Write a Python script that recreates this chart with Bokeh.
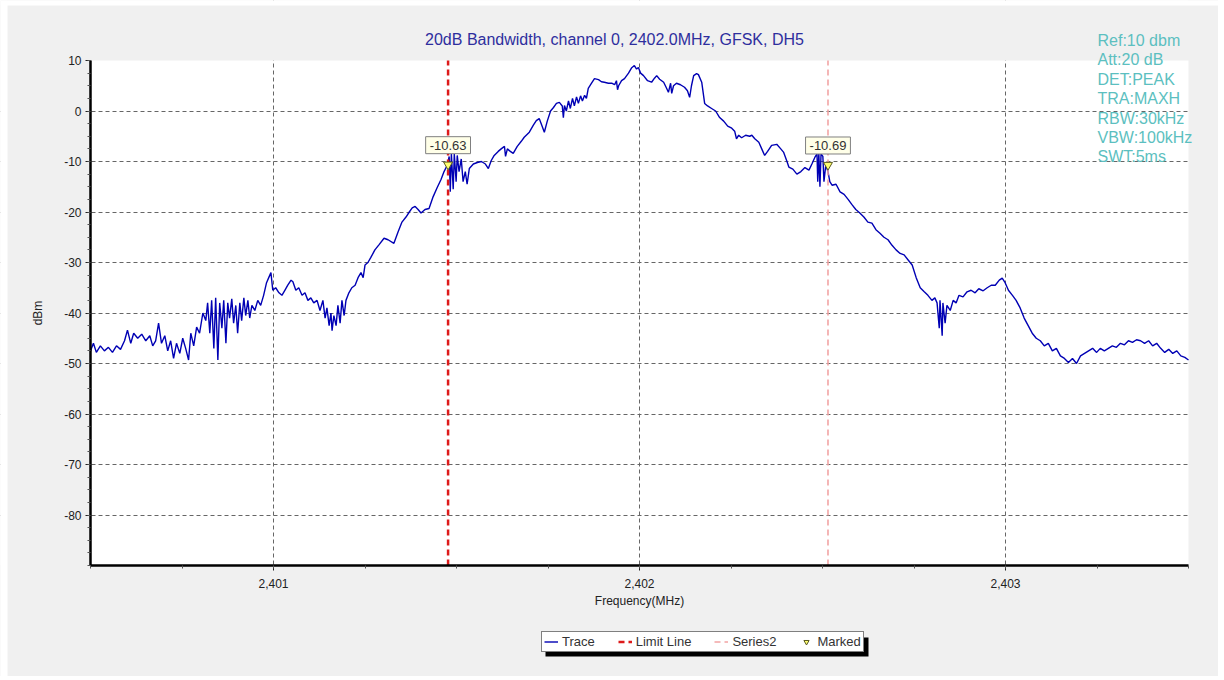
from bokeh.plotting import figure
from bokeh.models import (Range1d, FixedTicker, NumeralTickFormatter, Label,
                          Legend, LegendItem, BoxAnnotation)
from bokeh.embed import file_html
from bokeh.resources import INLINE

# ---------------- data ----------------
TITLE = "20dB Bandwidth, channel 0, 2402.0MHz, GFSK, DH5"
X_LABEL = "Frequency(MHz)"
Y_LABEL = "dBm"
x_ticks = [2401, 2402, 2403]
y_ticks = [-80, -70, -60, -50, -40, -30, -20, -10, 0, 10]
x_span = (2400.5, 2403.5)
y_span = (-90, 10)

freq_mhz = [
    2400.500, 2400.508, 2400.516, 2400.527, 2400.538, 2400.549, 2400.560, 2400.571, 2400.582, 2400.593,
    2400.601, 2400.610, 2400.618, 2400.629, 2400.640, 2400.651, 2400.662, 2400.670, 2400.678, 2400.686,
    2400.694, 2400.703, 2400.711, 2400.719, 2400.727, 2400.735, 2400.744, 2400.752, 2400.760, 2400.768,
    2400.774, 2400.782, 2400.790, 2400.798, 2400.807, 2400.815, 2400.820, 2400.826, 2400.831, 2400.837,
    2400.842, 2400.848, 2400.853, 2400.859, 2400.864, 2400.870, 2400.875, 2400.880, 2400.886, 2400.891,
    2400.897, 2400.902, 2400.908, 2400.913, 2400.919, 2400.924, 2400.930, 2400.935, 2400.941, 2400.949,
    2400.957, 2400.965, 2400.973, 2400.981, 2400.987, 2400.993, 2400.998, 2401.006, 2401.015, 2401.023,
    2401.031, 2401.039, 2401.048, 2401.053, 2401.061, 2401.069, 2401.078, 2401.086, 2401.094, 2401.102,
    2401.110, 2401.119, 2401.127, 2401.135, 2401.141, 2401.146, 2401.152, 2401.157, 2401.160, 2401.165,
    2401.171, 2401.176, 2401.182, 2401.187, 2401.193, 2401.198, 2401.206, 2401.214, 2401.223, 2401.231,
    2401.239, 2401.245, 2401.250, 2401.258, 2401.266, 2401.277, 2401.288, 2401.302, 2401.313, 2401.329,
    2401.340, 2401.351, 2401.362, 2401.371, 2401.379, 2401.387, 2401.395, 2401.403, 2401.414, 2401.425,
    2401.436, 2401.447, 2401.458, 2401.466, 2401.475, 2401.480, 2401.483, 2401.486, 2401.491, 2401.494,
    2401.499, 2401.502, 2401.507, 2401.513, 2401.518, 2401.524, 2401.529, 2401.535, 2401.546, 2401.557,
    2401.568, 2401.579, 2401.587, 2401.595, 2401.603, 2401.614, 2401.622, 2401.631, 2401.634, 2401.639,
    2401.647, 2401.655, 2401.666, 2401.677, 2401.685, 2401.699, 2401.710, 2401.718, 2401.726, 2401.734,
    2401.740, 2401.748, 2401.757, 2401.765, 2401.773, 2401.781, 2401.789, 2401.792, 2401.795, 2401.800,
    2401.806, 2401.811, 2401.817, 2401.822, 2401.828, 2401.833, 2401.839, 2401.844, 2401.850, 2401.855,
    2401.860, 2401.869, 2401.877, 2401.888, 2401.896, 2401.904, 2401.915, 2401.924, 2401.932, 2401.937,
    2401.940, 2401.943, 2401.951, 2401.959, 2401.970, 2401.978, 2401.986, 2401.992, 2401.997, 2402.003,
    2402.011, 2402.022, 2402.033, 2402.041, 2402.047, 2402.055, 2402.066, 2402.074, 2402.079, 2402.085,
    2402.088, 2402.093, 2402.101, 2402.112, 2402.123, 2402.131, 2402.137, 2402.142, 2402.148, 2402.156,
    2402.161, 2402.170, 2402.178, 2402.186, 2402.197, 2402.208, 2402.219, 2402.230, 2402.241, 2402.252,
    2402.260, 2402.265, 2402.271, 2402.279, 2402.290, 2402.301, 2402.307, 2402.315, 2402.326, 2402.334,
    2402.342, 2402.350, 2402.361, 2402.375, 2402.386, 2402.394, 2402.403, 2402.408, 2402.419, 2402.430,
    2402.441, 2402.452, 2402.463, 2402.471, 2402.479, 2402.485, 2402.487, 2402.490, 2402.493, 2402.496,
    2402.501, 2402.504, 2402.509, 2402.515, 2402.520, 2402.526, 2402.537, 2402.548, 2402.559, 2402.570,
    2402.580, 2402.591, 2402.602, 2402.613, 2402.624, 2402.635, 2402.646, 2402.657, 2402.668, 2402.679,
    2402.690, 2402.701, 2402.712, 2402.723, 2402.734, 2402.745, 2402.756, 2402.767, 2402.778, 2402.788,
    2402.799, 2402.807, 2402.813, 2402.819, 2402.821, 2402.827, 2402.829, 2402.835, 2402.840, 2402.849,
    2402.857, 2402.865, 2402.873, 2402.884, 2402.895, 2402.906, 2402.917, 2402.927, 2402.939, 2402.950,
    2402.961, 2402.972, 2402.983, 2402.991, 2402.999, 2403.008, 2403.019, 2403.029, 2403.040, 2403.051,
    2403.062, 2403.073, 2403.084, 2403.095, 2403.106, 2403.117, 2403.128, 2403.139, 2403.150, 2403.161,
    2403.172, 2403.183, 2403.194, 2403.205, 2403.216, 2403.227, 2403.238, 2403.249, 2403.259, 2403.270,
    2403.281, 2403.292, 2403.303, 2403.314, 2403.325, 2403.336, 2403.347, 2403.358, 2403.369, 2403.380,
    2403.391, 2403.402, 2403.413, 2403.424, 2403.435, 2403.446, 2403.457, 2403.468, 2403.479, 2403.490,
    2403.500,
]

level_dbm = [
    -47.5, -46.0, -47.8, -46.5, -47.5, -46.8, -47.8, -46.5, -47.2, -45.5,
    -43.4, -46.0, -44.0, -45.0, -44.2, -45.5, -44.5, -46.5, -45.5, -42.0,
    -46.0, -44.5, -47.5, -45.5, -49.0, -46.0, -48.0, -45.0, -47.0, -49.3,
    -44.0, -46.5, -42.8, -44.0, -40.0, -41.5, -38.0, -44.0, -37.5, -47.0,
    -37.0, -49.3, -38.0, -43.0, -37.5, -46.0, -38.0, -41.0, -37.2, -42.0,
    -38.5, -44.0, -38.0, -41.5, -37.0, -40.5, -37.5, -41.0, -38.5, -39.5,
    -37.5, -38.5, -36.5, -34.0, -33.0, -32.0, -35.5, -35.0, -36.0, -36.5,
    -35.5, -34.5, -33.5, -33.8, -35.5, -35.0, -36.5, -36.0, -37.5, -37.0,
    -38.0, -37.5, -39.5, -37.5, -41.0, -39.0, -42.5, -40.0, -43.5, -40.5,
    -42.5, -38.5, -42.0, -37.5, -40.5, -37.5, -36.0, -35.0, -34.5, -33.0,
    -32.0, -33.0, -30.5, -30.0, -29.0, -27.5, -26.5, -25.2, -25.5, -26.2,
    -24.0, -22.0, -21.0, -20.0, -19.2, -18.9, -19.5, -20.2, -19.5, -19.3,
    -17.0, -15.2, -13.5, -12.0, -10.7, -9.0, -16.0, -8.4, -15.5, -8.5,
    -14.0, -8.8, -12.0, -9.5, -14.0, -12.0, -14.5, -11.4, -10.5, -10.2,
    -10.0, -10.5, -11.4, -9.8, -8.8, -8.0, -7.5, -7.0, -9.0, -7.5,
    -8.0, -8.4, -7.0, -6.0, -5.2, -4.2, -2.8, -1.9, -1.5, -3.0,
    -4.2, -2.0, 0.0, 0.7, 1.5, 1.7, 1.0, -1.3, 1.1, 0.0,
    2.0, 0.5, 2.5, 1.0, 2.8, 1.5, 3.0, 2.0, 3.1, 2.5,
    4.5, 5.5, 6.4, 6.2, 5.8, 5.7, 5.5, 5.5, 5.2, 6.0,
    4.2, 5.0, 6.0, 6.4, 7.5, 8.5, 9.0, 8.3, 8.6, 7.5,
    7.0, 6.0, 5.7, 6.5, 7.0, 6.3, 5.7, 4.5, 3.7, 5.5,
    3.5, 5.0, 5.5, 5.2, 4.7, 4.0, 2.7, 5.0, 7.0, 7.4,
    7.2, 5.7, 1.5, 1.0, 0.5, 0.0, -1.3, -2.0, -3.0, -3.4,
    -4.0, -5.5, -4.8, -5.3, -4.8, -5.0, -4.8, -5.5, -6.2, -7.5,
    -8.8, -8.0, -6.8, -6.6, -7.5, -8.2, -10.0, -11.1, -11.5, -12.5,
    -12.0, -11.2, -11.7, -10.5, -9.2, -8.5, -14.0, -8.3, -15.0, -8.5,
    -9.0, -14.0, -10.7, -12.0, -14.0, -14.7, -14.5, -16.0, -16.5, -17.5,
    -18.5, -19.5, -20.2, -21.0, -22.0, -22.2, -23.5, -24.2, -25.0, -25.5,
    -26.6, -27.5, -28.2, -28.5, -29.5, -30.5, -33.0, -35.0, -35.8, -36.5,
    -37.5, -37.0, -38.0, -43.0, -37.5, -44.5, -38.0, -42.0, -38.5, -39.5,
    -37.5, -38.0, -36.5, -36.8, -35.8, -35.5, -36.0, -35.2, -35.6, -35.0,
    -34.5, -34.5, -33.5, -33.1, -34.0, -35.5, -36.5, -37.5, -39.0, -41.0,
    -42.5, -44.0, -45.0, -45.5, -46.5, -46.0, -47.5, -47.0, -48.5, -49.0,
    -49.8, -49.0, -50.0, -48.5, -48.0, -47.5, -47.0, -47.8, -47.0, -47.5,
    -47.0, -46.5, -46.8, -46.0, -46.3, -45.5, -45.8, -45.3, -45.5, -46.0,
    -45.5, -46.5, -46.0, -47.0, -47.8, -47.2, -48.0, -47.5, -48.5, -48.8,
    -49.3,
]

limit_line_mhz = 2401.477
series2_mhz = 2402.515
marker_mhz = [2401.477, 2402.515]
marker_dbm = [-10.63, -10.69]
marker_text = ["-10.63", "-10.69"]
info_lines = ["Ref:10 dbm", "Att:20 dB", "DET:PEAK", "TRA:MAXH",
              "RBW:30kHz", "VBW:100kHz", "SWT:5ms"]
legend_labels = ["Trace", "Limit Line", "Series2", "Marked"]

# ---------------- layout geometry (pixels) ----------------
FONT = "Liberation Sans"
GRAY = "#f0f0f0"
CANVAS_W, CANVAS_H = 1218, 676
PX_L, PX_R, PX_T, PX_B = 90, 1188, 60, 565     # plot area on the canvas
x_per_px = (x_span[1] - x_span[0]) / (PX_R - PX_L)
y_per_px = (y_span[1] - y_span[0]) / (PX_B - PX_T)
# the frame fills the whole canvas; axes sit at fixed locations on the plot area
x_start = x_span[0] - PX_L * x_per_px
x_end = x_span[1] + (CANVAS_W - PX_R) * x_per_px
y_start = y_span[0] - (CANVAS_H - PX_B) * y_per_px
y_end = y_span[1] + PX_T * y_per_px

p = figure(width=CANVAS_W, height=CANVAS_H, title=None,
           x_range=Range1d(x_start, x_end), y_range=Range1d(y_start, y_end),
           output_backend="svg", toolbar_location=None,
           min_border_left=0, min_border_right=0,
           min_border_top=0, min_border_bottom=0,
           background_fill_color="white", border_fill_color=GRAY,
           outline_line_color=None)

# axes
x_minor = [x_span[0] + 0.25 * i for i in range(13)]
y_minor = [y_span[0] + 2.5 * i for i in range(41)]
p.xaxis.ticker = FixedTicker(ticks=x_ticks, minor_ticks=x_minor)
p.yaxis.ticker = FixedTicker(ticks=y_ticks, minor_ticks=y_minor)
p.xaxis.formatter = NumeralTickFormatter(format="0,0")
p.yaxis.formatter = NumeralTickFormatter(format="0")
p.xaxis.bounds = x_span
p.yaxis.bounds = y_span
p.xaxis.fixed_location = y_span[0]
p.yaxis.fixed_location = x_span[0]
for ax in (p.xaxis, p.yaxis):
    ax.axis_line_color = "black"
    ax.axis_line_width = 2.5
    ax.major_tick_line_color = "#222222"
    ax.major_tick_out = 5
    ax.major_tick_in = 0
    ax.minor_tick_line_color = "#555555"
    ax.minor_tick_out = 3
    ax.minor_tick_in = 0
    ax.major_label_text_font = FONT
    ax.major_label_text_font_size = "12px"
    ax.major_label_text_color = "#222222"
    ax.axis_label_text_font = FONT
    ax.axis_label_text_font_size = "12px"
    ax.axis_label_text_font_style = "normal"
    ax.axis_label_text_color = "#222222"
p.xaxis.axis_label = X_LABEL
p.yaxis.axis_label = Y_LABEL
p.xaxis.major_label_standoff = 8
p.xaxis.axis_label_standoff = 3
p.yaxis.major_label_standoff = 4
p.yaxis.axis_label_standoff = 16

p.xgrid.ticker = FixedTicker(ticks=x_ticks)
p.ygrid.ticker = FixedTicker(ticks=[t for t in y_ticks if t < y_span[1]])
for g in (p.xgrid, p.ygrid):
    g.grid_line_color = "#666666"
    g.grid_line_dash = "4 3"
    g.grid_line_width = 1

# gray covers around the plot area (also hide grid overflow)
for kw in (dict(bottom=y_span[1]), dict(top=y_span[0]),
           dict(right=x_span[0]), dict(left=x_span[1])):
    p.add_layout(BoxAnnotation(fill_color=GRAY, fill_alpha=1.0, line_color=None,
                               level="underlay", **kw))
# thin white page margin at the left and top of the gray panel
p.add_layout(BoxAnnotation(left=0, right=7, left_units="screen", right_units="screen",
                           fill_color="white", fill_alpha=1.0, line_color=None,
                           level="underlay"))
p.add_layout(BoxAnnotation(bottom=CANVAS_H - 5, bottom_units="screen",
                           fill_color="white", fill_alpha=1.0, line_color=None,
                           level="underlay"))

# series
r_trace = p.line(freq_mhz, level_dbm, line_color="#0000b4", line_width=1.4)
r_limit = p.line([limit_line_mhz, limit_line_mhz], list(y_span),
                 line_color="#dd1a1a", line_width=2.5, line_dash="6 4")
r_series2 = p.line([series2_mhz, series2_mhz], list(y_span),
                   line_color="#f2a4a4", line_width=1.6, line_dash="6 4")
r_marked = p.scatter(marker_mhz, marker_dbm, marker="inverted_triangle", size=9,
                     fill_color="#ffff70", line_color="#5a5a20", line_width=1)

for mx, my, mt in zip(marker_mhz, marker_dbm, marker_text):
    p.add_layout(Label(x=mx, y=my, text=mt, y_offset=11,
                       text_align="center", text_baseline="bottom",
                       text_font=FONT, text_font_size="13px",
                       text_color="#333333",
                       background_fill_color="#ffffe8",
                       border_line_color="#808080", border_line_width=1,
                       padding=4))

# title (screen units: from the frame's bottom-left = canvas bottom-left)
p.add_layout(Label(x=614, y=CANVAS_H - 39, x_units="screen", y_units="screen",
                   text=TITLE, text_align="center", text_baseline="middle",
                   text_font=FONT, text_font_size="16px",
                   text_color="#2e2e9e"))

# info block
for i, line in enumerate(info_lines):
    p.add_layout(Label(x=1097, y=CANVAS_H - 40 - 19.4 * i,
                       x_units="screen", y_units="screen",
                       text=line, text_align="left", text_baseline="middle",
                       text_font=FONT, text_font_size="16px",
                       text_color="#5cbfc0"))

# legend with a black drop shadow behind it
LEG_X, LEG_TOP, LEG_BOTTOM, LEG_W = 541, 633, 652, 323
p.add_layout(BoxAnnotation(left=LEG_X + 4, right=LEG_X + LEG_W + 4,
                           top=CANVAS_H - (LEG_TOP + 4),
                           bottom=CANVAS_H - (LEG_BOTTOM + 4),
                           left_units="screen", right_units="screen",
                           top_units="screen", bottom_units="screen",
                           fill_color="black", fill_alpha=1.0, line_color=None))
legend = Legend(items=[LegendItem(label=lab, renderers=[r]) for lab, r in
                       zip(legend_labels, [r_trace, r_limit, r_series2, r_marked])],
                location=(LEG_X, CANVAS_H - LEG_BOTTOM),
                orientation="horizontal", glyph_width=14, glyph_height=13,
                label_height=13, label_width=10, label_standoff=4, spacing=23,
                padding=2, margin=0, border_line_width=1,
                border_line_color="black", background_fill_color="white",
                background_fill_alpha=1.0, label_text_font=FONT,
                label_text_font_size="13px", label_text_baseline="middle",
                label_text_color="#333333")
p.add_layout(legend)

open("out.html", "w").write(file_html(p, INLINE))
